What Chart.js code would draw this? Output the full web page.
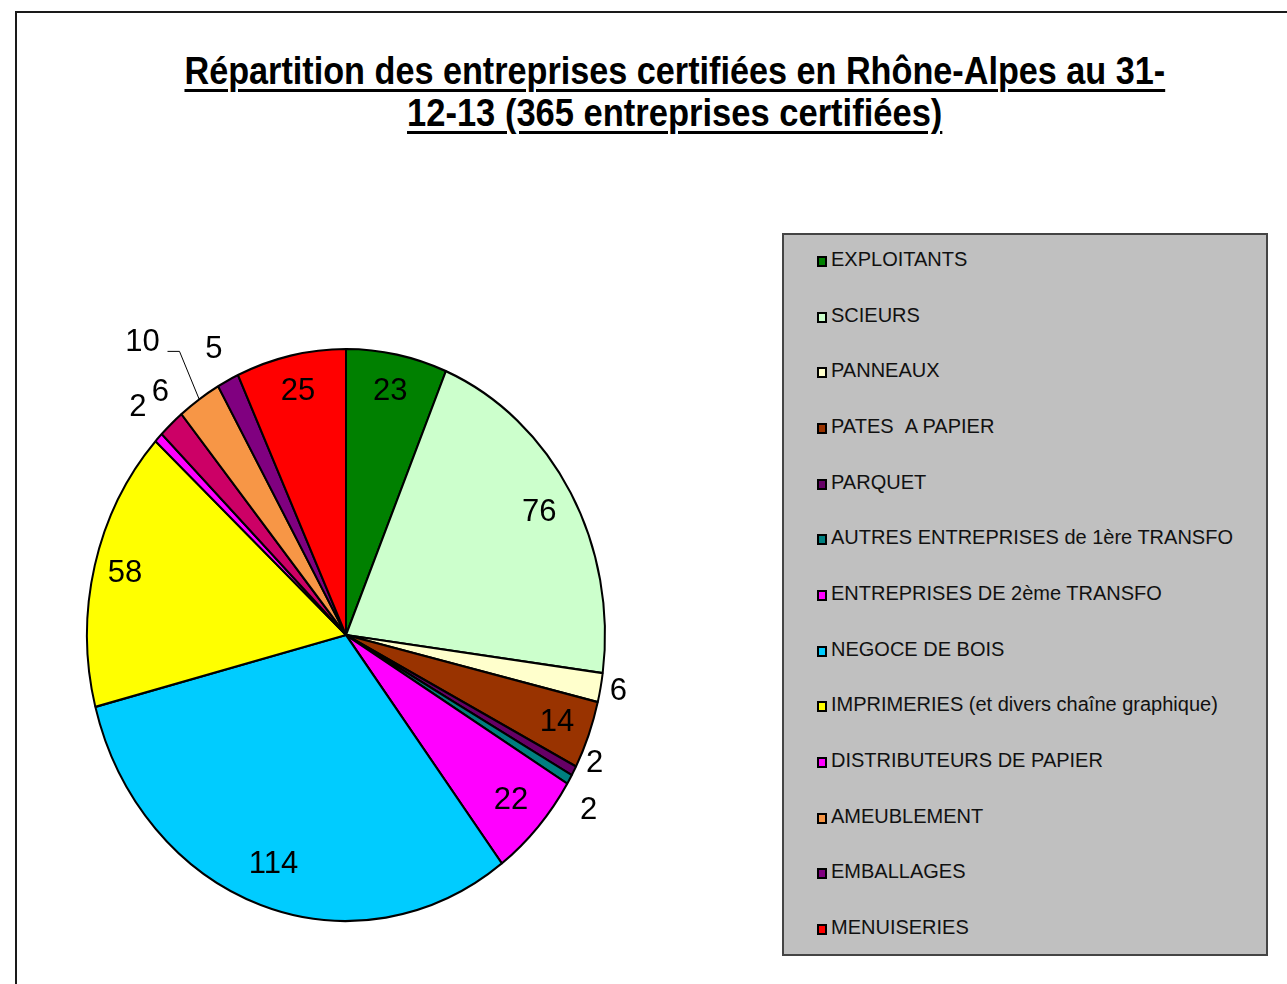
<!DOCTYPE html>
<html>
<head>
<meta charset="utf-8">
<script src="https://cdn.jsdelivr.net/npm/chart.js@4/dist/chart.umd.min.js"></script>
<style>
    body { margin: 0; background: #fff; width: 1287px; height: 984px; overflow: hidden; position: relative; font-family: "Liberation Sans", Arial, sans-serif; }
    #frame { position: absolute; left: 15px; top: 11px; width: 1300px; height: 1000px; border-top: 2px solid #1a1a1a; border-left: 2px solid #1a1a1a; }
    .title-line { position: absolute; left: 0; width: 1349px; text-align: center; font-weight: bold; font-size: 38px; line-height: 42px; color: #000; }
    .title-line span { display: inline-block; text-decoration: underline; text-decoration-thickness: 3px; text-underline-offset: 5px; transform-origin: center; white-space: nowrap; }
    #pie { position: absolute; left: 0; top: 300px; }
    #legend { position: absolute; left: 782px; top: 233px; width: 486px; height: 723px; box-sizing: border-box; background: #c0c0c0; border: 2px solid #444; }
    .item { position: absolute; left: 33px; height: 24px; line-height: 24px; font-size: 20px; color: #111; white-space: nowrap; }
    .mark { display: inline-block; width: 10px; height: 11px; box-sizing: border-box; border: 2px solid #000; margin-right: 4px; vertical-align: -1px; }
</style>
</head>
<body>
<div id="frame"></div>
<div class="title-line" style="top: 50px;"><span id="t1">Répartition des entreprises certifiées en Rhône-Alpes au 31-</span></div>
<div class="title-line" style="top: 92px;"><span id="t2">12-13 (365 entreprises certifiées)</span></div>
<canvas id="pie" width="720" height="684"></canvas>
<div id="legend"></div>

<script>
// Data (365 entreprises au total)
const categories = [
    'EXPLOITANTS',
    'SCIEURS',
    'PANNEAUX',
    'PATES  A PAPIER',
    'PARQUET',
    'AUTRES ENTREPRISES de 1ère TRANSFO',
    'ENTREPRISES DE 2ème TRANSFO',
    'NEGOCE DE BOIS',
    'IMPRIMERIES (et divers chaîne graphique)',
    'DISTRIBUTEURS DE PAPIER',
    '',   // slice without legend entry in the original
    'AMEUBLEMENT',
    'EMBALLAGES',
    'MENUISERIES'
];
const counts = [23, 76, 6, 14, 2, 2, 22, 114, 58, 2, 6, 10, 5, 25];
const sliceColors = [
    '#008000', '#ccffcc', '#ffffcc', '#993300', '#660066', '#008080', '#ff00ff',
    '#00ccff', '#ffff00', '#ff00ff', '#cc0066', '#f79646', '#800080', '#ff0000'
];

// label placement: distance as a fraction of the radius, and small angular nudge (deg)
const labelDist = [0.87, 0.86, 1.07, 0.87, 1.06, 1.12, 0.86, 0.85, 0.88, 1.13, 1.11, 1.29, 1.12, 0.87];
const labelNudge = [0, 0, 0, 0, -3.3, 2.9, 0, 0, 0, 1, 2.2, -3, 0, 0];
const leaderIndex = 11;

// pie is drawn as an ellipse in the original
const stretchY = 286 / 259;

// title: squeeze to the original line widths
function fitTitle(id, target) {
    const el = document.getElementById(id);
    el.style.transform = 'scaleX(' + (target / el.offsetWidth) + ')';
}
fitTitle('t1', 981);
fitTitle('t2', 535);

// legend box
const legend = document.getElementById('legend');
let row = 0;
categories.forEach((name, i) => {
    if (!name) return;
    const div = document.createElement('div');
    div.className = 'item';
    div.style.top = (12 + row * 55.67) + 'px';
    div.innerHTML = `<span class="mark" style="background:${sliceColors[i]}"></span>${name.replace(/  /g, ' &nbsp;')}`;
    legend.appendChild(div);
    row++;
});

const stretchPlugin = {
    id: 'stretch',
    beforeDatasetsDraw(chart) {
        const arc = chart.getDatasetMeta(0).data[0];
        const ctx = chart.ctx;
        ctx.save();
        ctx.translate(arc.x, arc.y);
        ctx.scale(1, stretchY);
        ctx.translate(-arc.x, -arc.y);
    },
    afterDatasetsDraw(chart) {
        chart.ctx.restore();
    }
};

const valueLabels = {
    id: 'valueLabels',
    afterDraw(chart) {
        const ctx = chart.ctx;
        const meta = chart.getDatasetMeta(0);
        ctx.save();
        ctx.font = '31px "Liberation Sans", Arial, sans-serif';
        ctx.fillStyle = '#000';
        ctx.textAlign = 'center';
        ctx.textBaseline = 'middle';
        meta.data.forEach((arc, i) => {
            const p = arc.getProps(['x', 'y', 'startAngle', 'endAngle', 'outerRadius'], true);
            const mid = (p.startAngle + p.endAngle) / 2;
            const a = mid + labelNudge[i] * Math.PI / 180;
            const r = p.outerRadius * labelDist[i];
            const lx = p.x + Math.cos(a) * r;
            const ly = p.y + Math.sin(a) * r * stretchY;
            if (i === leaderIndex) {
                const ex = p.x + Math.cos(mid) * p.outerRadius;
                const ey = p.y + Math.sin(mid) * p.outerRadius * stretchY;
                ctx.strokeStyle = '#000';
                ctx.lineWidth = 1;
                ctx.beginPath();
                ctx.moveTo(ex, ey);
                ctx.lineTo(lx + 37, ly + 9);
                ctx.lineTo(lx + 25, ly + 9);
                ctx.stroke();
            }
            ctx.fillText(String(counts[i]), lx, ly);
        });
        ctx.restore();
    }
};

new Chart(document.getElementById('pie'), {
    type: 'pie',
    data: {
        labels: categories,
        datasets: [{
            data: counts,
            backgroundColor: sliceColors,
            borderColor: '#000',
            borderWidth: 2
        }]
    },
    options: {
        responsive: false,
        animation: false,
        layout: { padding: { left: 86, right: 114, top: 75, bottom: 89 } },
        plugins: {
            legend: { display: false },
            tooltip: { enabled: false }
        }
    },
    plugins: [stretchPlugin, valueLabels]
});
</script>
</body>
</html>
